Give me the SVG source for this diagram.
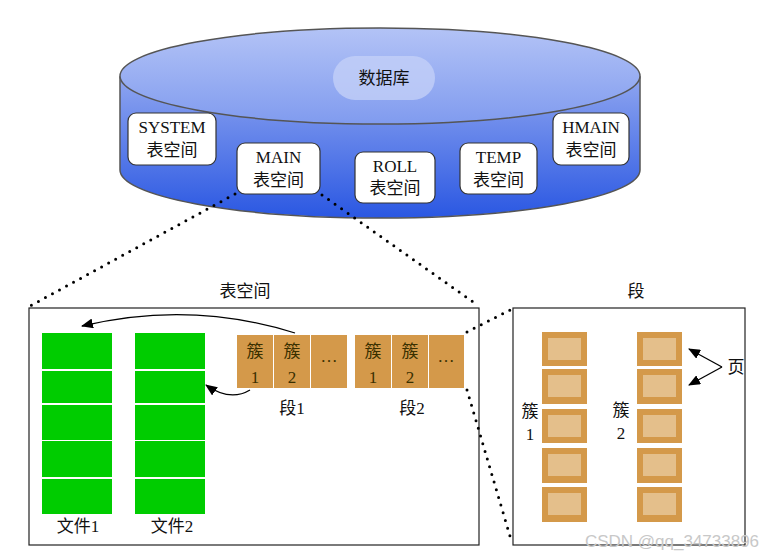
<svg xmlns="http://www.w3.org/2000/svg" width="772" height="559" viewBox="0 0 772 559">
<defs>
<linearGradient id="gBody" x1="0" y1="0" x2="0" y2="1">
<stop offset="0" stop-color="#8ea5f0"/>
<stop offset="1" stop-color="#2a57e2"/>
</linearGradient>
<linearGradient id="gTop" x1="0" y1="0" x2="0" y2="1">
<stop offset="0" stop-color="#b3c3f6"/>
<stop offset="1" stop-color="#809bef"/>
</linearGradient>
<marker id="ah" markerWidth="12" markerHeight="10" refX="11" refY="5" orient="auto" markerUnits="userSpaceOnUse">
<path d="M0,0 L12,5 L0,10 Z" fill="#000"/>
</marker>
<style>
text{font-family:"Liberation Serif","Noto Sans CJK SC",serif;font-size:17px;fill:#111;text-anchor:middle}
.ts rect{fill:#fff;stroke:#333;stroke-width:1.2}
.g{fill:#00cc00}
.c{fill:#d4994a}
.ct{fill:#3a3000}
.pin{fill:#e4bf8b}
.dot{fill:none;stroke:#000;stroke-width:3;stroke-linecap:round;stroke-dasharray:0 8}
.box{fill:#fff;stroke:#222;stroke-width:1.2}
</style>
</defs>

<g id="database">
<path d="M120,77 L120,170 A260,48 0 0 0 640,170 L640,77 Z" fill="url(#gBody)" stroke="#555" stroke-width="1.5"/>
<ellipse cx="380" cy="76" rx="260" ry="48" fill="url(#gTop)" stroke="#555" stroke-width="1.5"/>
<rect x="333" y="56" width="102" height="44" rx="22" fill="#c3cff7" opacity="0.8"/>
<text x="384" y="84">数据库</text>
</g>

<g id="ts-system" class="ts"><rect x="128" y="113" width="88" height="52" rx="8"/><text x="172" y="133">SYSTEM</text><text x="172" y="156">表空间</text></g>
<g id="ts-main" class="ts"><rect x="237" y="143" width="83" height="51" rx="8"/><text x="278.5" y="163">MAIN</text><text x="278.5" y="186">表空间</text></g>
<g id="ts-roll" class="ts"><rect x="355" y="152" width="80" height="51" rx="8"/><text x="395" y="172">ROLL</text><text x="395" y="194">表空间</text></g>
<g id="ts-temp" class="ts"><rect x="460" y="143" width="77" height="51" rx="8"/><text x="498.5" y="163">TEMP</text><text x="498.5" y="186">表空间</text></g>
<g id="ts-hmain" class="ts"><rect x="553" y="113" width="76" height="52" rx="8"/><text x="591" y="133">HMAIN</text><text x="591" y="156">表空间</text></g>

<g id="tablespace">
<text x="245" y="297">表空间</text>
<rect class="box" x="29" y="308" width="450" height="237"/>
</g>

<g id="file1">
<rect class="g" x="42" y="333" width="70" height="36"/>
<rect class="g" x="42" y="371" width="70" height="32"/>
<rect class="g" x="42" y="405" width="70" height="35"/>
<rect class="g" x="42" y="441" width="70" height="36"/>
<rect class="g" x="42" y="479" width="70" height="35"/>
<text x="78" y="532">文件1</text>
</g>
<g id="file2">
<rect class="g" x="135" y="333" width="70" height="36"/>
<rect class="g" x="135" y="371" width="70" height="32"/>
<rect class="g" x="135" y="405" width="70" height="35"/>
<rect class="g" x="135" y="441" width="70" height="36"/>
<rect class="g" x="135" y="479" width="70" height="35"/>
<text x="172" y="532">文件2</text>
</g>

<g id="segment1">
<rect class="c" x="237" y="335" width="36" height="53"/>
<rect class="c" x="274" y="335" width="36" height="53"/>
<rect class="c" x="311" y="335" width="36" height="53"/>
<text class="ct" x="255" y="357">簇</text><text class="ct" x="255" y="383">1</text>
<text class="ct" x="292" y="357">簇</text><text class="ct" x="292" y="383">2</text>
<text class="ct" x="329" y="362">…</text>
<text x="292" y="414">段1</text>
</g>
<g id="segment2">
<rect class="c" x="355" y="335" width="36" height="53"/>
<rect class="c" x="392" y="335" width="36" height="53"/>
<rect class="c" x="429" y="335" width="35" height="53"/>
<text class="ct" x="373" y="357">簇</text><text class="ct" x="373" y="383">1</text>
<text class="ct" x="410" y="357">簇</text><text class="ct" x="410" y="383">2</text>
<text class="ct" x="446" y="362">…</text>
<text x="412" y="414">段2</text>
</g>

<g id="segment-detail">
<text x="636" y="297">段</text>
<rect class="box" x="513" y="308" width="232" height="237"/>
<g id="cluster1">
<rect class="c" x="542" y="332" width="45" height="34"/><rect class="pin" x="548" y="338" width="33" height="22"/>
<rect class="c" x="542" y="369" width="45" height="35"/><rect class="pin" x="548" y="375" width="33" height="22"/>
<rect class="c" x="542" y="409" width="45" height="34"/><rect class="pin" x="548" y="415" width="33" height="22"/>
<rect class="c" x="542" y="448" width="45" height="35"/><rect class="pin" x="548" y="454" width="33" height="22"/>
<rect class="c" x="542" y="487" width="45" height="35"/><rect class="pin" x="548" y="493" width="33" height="22"/>
<text x="530" y="417">簇</text><text x="530" y="440">1</text>
</g>
<g id="cluster2">
<rect class="c" x="637" y="332" width="45" height="34"/><rect class="pin" x="643" y="338" width="33" height="22"/>
<rect class="c" x="637" y="369" width="45" height="35"/><rect class="pin" x="643" y="375" width="33" height="22"/>
<rect class="c" x="637" y="409" width="45" height="34"/><rect class="pin" x="643" y="415" width="33" height="22"/>
<rect class="c" x="637" y="448" width="45" height="35"/><rect class="pin" x="643" y="454" width="33" height="22"/>
<rect class="c" x="637" y="487" width="45" height="35"/><rect class="pin" x="643" y="493" width="33" height="22"/>
<text x="621" y="416">簇</text><text x="621" y="439">2</text>
</g>
<text x="736" y="373">页</text>
</g>

<g id="connectors">
<path class="dot" d="M235,194 L30,306"/>
<path class="dot" d="M322,195 L476,304"/>
<path class="dot" d="M467,332 L512,309"/>
<path class="dot" d="M467,390 L512,543"/>
<path d="M295,333 Q190,300 82,326" fill="none" stroke="#000" stroke-width="1.3" marker-end="url(#ah)"/>
<path d="M250,390 Q230,402 206,385" fill="none" stroke="#000" stroke-width="1.3" marker-end="url(#ah)"/>
<path d="M722,367 L689,349" fill="none" stroke="#000" stroke-width="1.3" marker-end="url(#ah)"/>
<path d="M722,367 L689,385" fill="none" stroke="#000" stroke-width="1.3" marker-end="url(#ah)"/>
</g>

<text x="672" y="547" style="fill:#c8c8c8;font-family:'Liberation Sans',sans-serif;font-size:17px">CSDN @qq_34733896</text>
</svg>
